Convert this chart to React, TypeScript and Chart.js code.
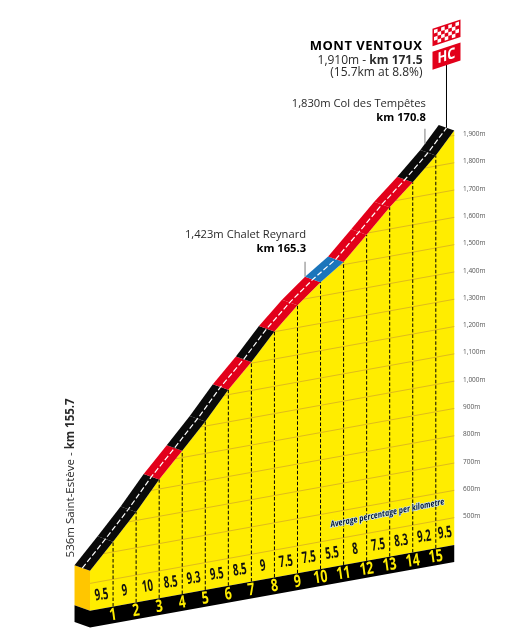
import { useEffect, useRef } from 'react'
import { Chart, registerables } from 'chart.js'

Chart.register(...registerables)

// km from the foot of the climb and altitude in metres
const profileKm = [0, 1, 2, 3, 4, 5, 6, 7, 8, 9, 10, 11, 12, 13, 14, 15, 15.8]
const profileAlt = [546, 637, 731, 835, 925, 1017, 1118, 1204, 1301, 1382, 1451, 1510, 1594, 1680, 1756, 1839, 1918]
const gradients = ['9.5', '9', '10', '8.5', '9.3', '9.5', '8.5', '9', '7.5', '7.5', '5.5', '8', '7.5', '8.3', '9.2', '9.5']
const kmLabels = ['1', '2', '3', '4', '5', '6', '7', '8', '9', '10', '11', '12', '13', '14', '15']
const roadColours = ['k', 'k', 'k', 'r', 'k', 'k', 'r', 'k', 'r', 'r', 'b', 'r', 'r', 'r', 'k', 'k']
const altTicks = [500, 600, 700, 800, 900, 1000, 1100, 1200, 1300, 1400, 1500, 1600, 1700, 1800, 1900]
const markerKm = [10, 15.2]

const COLOURS: Record<string, string> = { k: '#0a0a0a', r: '#e2001a', b: '#1b75bb' }
const YELLOW = '#ffed00'
const FONT = '"Open Sans"'

// the drawing is oblique: every km lifts the ground, and the road has depth
const TILT = 15.24
const DEPTH_KM = -0.672
const DEPTH_ALT = 30.4
const BASE_ALT = 400
const BAND = 62
const END_KM = profileKm[profileKm.length - 1]

const pt = (km: number, alt: number) => ({ x: km, y: alt + TILT * km })
const back = (km: number, alt: number, f = 1) => pt(km + DEPTH_KM * f, alt + DEPTH_ALT * f)

function altAt(km: number) {
  const i = Math.min(Math.floor(km), profileKm.length - 2)
  const t = (km - profileKm[i]) / (profileKm[i + 1] - profileKm[i])
  return profileAlt[i] + (profileAlt[i + 1] - profileAlt[i]) * t
}

function gridStart(alt: number) {
  for (let i = 0; i < profileAlt.length - 1; i++) {
    if (profileAlt[i + 1] >= alt) {
      if (profileAlt[i] >= alt) return profileKm[i]
      const t = (alt - profileAlt[i]) / (profileAlt[i + 1] - profileAlt[i])
      return profileKm[i] + t * (profileKm[i + 1] - profileKm[i])
    }
  }
  return END_KM
}

const shape = (data: { x: number; y: number }[], colour: string) => ({
  data,
  fill: 'shape',
  backgroundColor: colour,
  borderWidth: 0,
  pointRadius: 0,
  tension: 0,
})

const stroke = (data: { x: number; y: number }[], colour: string, width: number, dash: number[] = []) => ({
  data,
  fill: false,
  borderColor: colour,
  borderWidth: width,
  borderDash: dash,
  pointRadius: 0,
  tension: 0,
})

function buildDatasets() {
  const list: any[] = []
  // yellow body
  list.push(shape([pt(0, BASE_ALT), pt(END_KM, BASE_ALT), ...profileKm.map((k, i) => pt(k, profileAlt[i])).reverse()], YELLOW))
  // front of the block
  list.push(shape([back(0, profileAlt[0]), pt(0, profileAlt[0]), pt(0, BASE_ALT), back(0, BASE_ALT)], '#ffc600'))
  // altitude lines
  altTicks.forEach(a => list.push(stroke([pt(gridStart(a), a), pt(END_KM, a)], '#dfbb1c', 1)))
  // km posts
  kmLabels.forEach((_, i) => {
    const km = profileKm[i + 1]
    list.push(stroke([pt(km, BASE_ALT), pt(km, profileAlt[i + 1])], '#000', 1, [3.5, 2]))
  })
  // black band at the bottom
  list.push(shape([
    back(0, BASE_ALT), pt(0, BASE_ALT), pt(END_KM, BASE_ALT),
    pt(END_KM, BASE_ALT - BAND), pt(0, BASE_ALT - BAND), back(0, BASE_ALT - BAND),
  ], '#000'))
  // road, one piece per km
  roadColours.forEach((c, i) => {
    const a = profileAlt[i], b = profileAlt[i + 1]
    const k0 = profileKm[i], k1 = profileKm[i + 1]
    list.push(shape([pt(k0, a), pt(k1, b), back(k1, b), back(k0, a)], COLOURS[c]))
  })
  list.push(stroke(profileKm.map((k, i) => back(k, profileAlt[i], 0.5)), '#fff', 1.2, [5.5, 2.5]))
  // markers for the passes
  markerKm.forEach(k => {
    const a = altAt(k)
    list.push(stroke([back(k, a), back(k, a + 55)], '#999', 1.3))
  })
  // flag pole
  const top = profileAlt[profileAlt.length - 1]
  list.push(stroke([back(END_KM, top, 0.5), back(END_KM, top + 238, 0.5)], '#000', 1))
  return list.reverse() // first dataset is painted last
}

type Run = { t: string; b?: boolean }

function runs(ctx: CanvasRenderingContext2D, parts: Run[], right: number, y: number, size: number, colour = '#2a2a2a') {
  ctx.textBaseline = 'middle'
  ctx.textAlign = 'left'
  ctx.fillStyle = colour
  let x = right
  const widths = parts.map(p => {
    ctx.font = `${p.b ? 'bold ' : ''}${size}px ${FONT}`
    return ctx.measureText(p.t).width
  })
  x -= widths.reduce((s, w) => s + w, 0)
  parts.forEach((p, i) => {
    ctx.font = `${p.b ? 'bold ' : ''}${size}px ${FONT}`
    ctx.fillText(p.t, x, y)
    x += widths[i]
  })
}

function narrow(ctx: CanvasRenderingContext2D, text: string, x: number, y: number, size: number, sx: number, angle: number, colour: string) {
  ctx.save()
  ctx.translate(x, y)
  ctx.rotate(angle)
  ctx.scale(sx, 1)
  ctx.font = `bold ${size}px ${FONT}`
  ctx.textAlign = 'center'
  ctx.textBaseline = 'middle'
  ctx.fillStyle = colour
  ctx.fillText(text, 0, 0)
  ctx.restore()
}

function drawFlag(ctx: CanvasRenderingContext2D, poleX: number, poleY: number) {
  const x0 = poleX - 14
  ctx.save()
  // checkered part
  ctx.save()
  ctx.transform(1, -0.33, 0, 1, x0, poleY - 34)
  ctx.fillStyle = '#e2001a'
  ctx.fillRect(0, 0, 28, 17.5)
  ctx.fillStyle = '#fff'
  for (let r = 0; r < 4; r++) {
    for (let c = 0; c < 7; c++) {
      if ((r + c) % 2 === 0) ctx.fillRect(1.5 + c * 3.57, 1.5 + r * 3.6, 3.57, 3.6)
    }
  }
  ctx.restore()
  // HC part
  ctx.transform(1, -0.33, 0, 1, x0, poleY - 11)
  ctx.fillStyle = '#e2001a'
  ctx.fillRect(0, 0, 28, 18)
  ctx.font = `bold 15px ${FONT}`
  ctx.textAlign = 'center'
  ctx.textBaseline = 'middle'
  ctx.fillStyle = '#fff'
  ctx.translate(14, 9)
  ctx.scale(0.85, 1)
  ctx.fillText('HC', 0, 0)
  ctx.restore()
}

const labelsPlugin = {
  id: 'profileLabels',
  afterDatasetsDraw(chart: any) {
    const { ctx, scales: { x, y } } = chart
    const px = (p: { x: number; y: number }) => [x.getPixelForValue(p.x), y.getPixelForValue(p.y)]
    const slope = -8 * Math.PI / 180
    ctx.save()

    gradients.forEach((g, i) => {
      const km = i === gradients.length - 1 ? 15.4 : profileKm[i] + 0.5
      const [cx, cy] = px(pt(km, BASE_ALT))
      narrow(ctx, g, cx, cy - 13.5, 16, 0.6, slope, '#111')
    })
    kmLabels.forEach((k, i) => {
      const [cx, cy] = px(pt(profileKm[i + 1], BASE_ALT))
      narrow(ctx, k, cx, cy + 8.7, 17, 0.72, slope, YELLOW)
    })

    // caption along the ground
    const [cap, capY] = px(pt(12.9, 560))
    ctx.save()
    ctx.translate(cap, capY)
    ctx.rotate(-11.5 * Math.PI / 180)
    ctx.scale(0.84, 1)
    ctx.font = `italic bold 8.6px ${FONT}`
    ctx.textAlign = 'center'
    ctx.textBaseline = 'middle'
    ctx.lineWidth = 1.4
    ctx.strokeStyle = '#cfe6f5'
    ctx.strokeText('Average percentage per kilometre', 0, 0)
    ctx.fillStyle = '#0a1c33'
    ctx.fillText('Average percentage per kilometre', 0, 0)
    ctx.restore()

    // start, written upwards
    const [sx, sy] = px(back(0, profileAlt[0]))
    ctx.save()
    ctx.translate(sx - 4, sy - 9)
    ctx.rotate(-Math.PI / 2)
    ctx.translate(158, 0)
    runs(ctx, [{ t: '536m Saint-Estève - ' }, { t: 'km 155.7', b: true }], 0, 0, 11.5)
    ctx.restore()

    // passes
    const [cx, cy] = px(back(markerKm[0], altAt(markerKm[0]) + 55))
    runs(ctx, [{ t: '1,423m Chalet Reynard' }], cx + 1, cy - 27, 11.2)
    runs(ctx, [{ t: 'km 165.3', b: true }], cx + 1, cy - 13, 11.2, '#000')
    const [tx, ty] = px(back(markerKm[1], altAt(markerKm[1]) + 55))
    runs(ctx, [{ t: '1,830m Col des Tempêtes' }], tx + 1, ty - 25, 11.2)
    runs(ctx, [{ t: 'km 170.8', b: true }], tx + 1, ty - 11, 11.2, '#000')

    // summit
    const top = profileAlt[profileAlt.length - 1]
    const [fx, fy] = px(back(END_KM, top + 238, 0.5))
    ctx.save()
    ctx.font = `bold 13px ${FONT}`
    ctx.letterSpacing = '0.5px'
    ctx.textAlign = 'right'
    ctx.textBaseline = 'middle'
    ctx.fillStyle = '#000'
    ctx.fillText('MONT VENTOUX', fx - 24, fy - 17)
    ctx.restore()
    runs(ctx, [{ t: '1,910m - ' }, { t: 'km 171.5', b: true }], fx - 24, fy - 2, 12)
    runs(ctx, [{ t: '(15.7km at 8.8%)' }], fx - 24, fy + 10, 12)
    drawFlag(ctx, fx, fy)

    ctx.restore()
  },
}

export default function App() {
  const canvasRef = useRef<HTMLCanvasElement>(null)

  useEffect(() => {
    if (!canvasRef.current) return
    const tickKm = 16.1
    const chart = new Chart(canvasRef.current, {
      type: 'line',
      data: { datasets: buildDatasets() },
      options: {
        responsive: false,
        animation: false,
        layout: { padding: 0 },
        plugins: { legend: { display: false }, tooltip: { enabled: false } },
        scales: {
          x: { type: 'linear', display: false, min: -3.905, max: 16.18 },
          y: {
            type: 'linear',
            position: 'right',
            // the axis keeps half a label free above and below the plot
            min: 292.3,
            max: 2622.7,
            border: { display: false },
            grid: { display: false, drawTicks: false },
            afterBuildTicks: (s: any) => {
              s.ticks = altTicks.map(a => ({ value: a + TILT * tickKm }))
            },
            afterFit: (s: any) => { s.width = 48 },
            ticks: {
              autoSkip: false,
              padding: 0,
              color: '#555',
              font: { family: 'Open Sans', size: 6.5 },
              callback: (v: any) => `${Math.round(v - TILT * tickKm).toLocaleString('en-US')}m`,
            },
          },
        },
      } as any,
      plugins: [labelsPlugin],
    })
    return () => chart.destroy()
  }, [])

  return (
    <div style={{ position: 'absolute', left: 0, top: 0, width: 511, height: 644, background: '#fff' }}>
      <canvas ref={canvasRef} width={511} height={644} style={{ display: 'block' }} />
    </div>
  )
}
